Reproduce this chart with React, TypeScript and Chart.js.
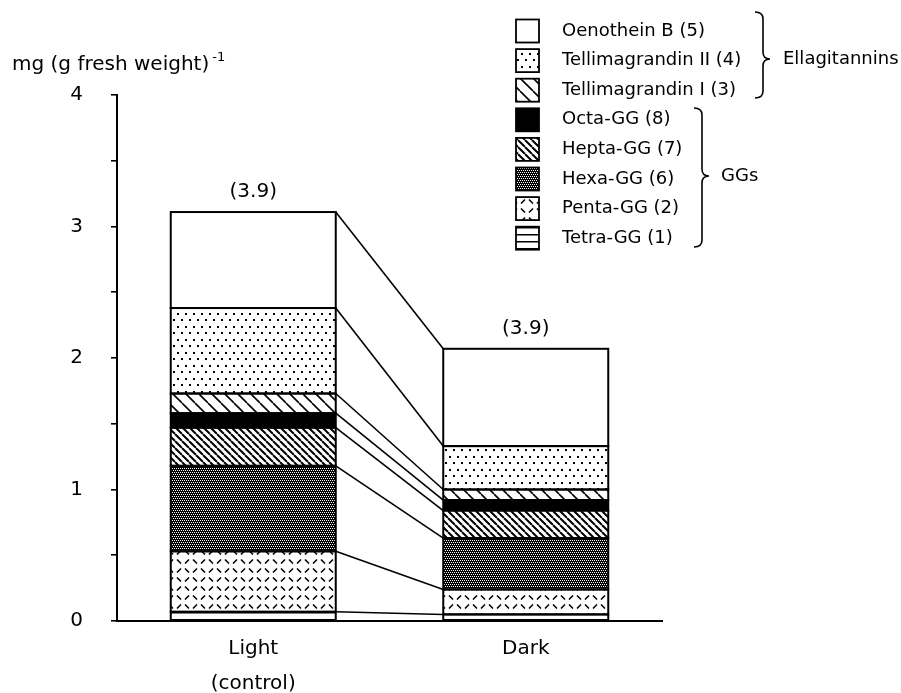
import React, { useEffect, useRef } from "react";
import { Chart, registerables } from "chart.js";

Chart.register(...registerables);

// ---- data ----
const categories: (string | string[])[] = [["Light", "(control)"], "Dark"];
const tetraGG = [0.07, 0.05];
const pentaGG = [0.46, 0.19];
const hexaGG = [0.65, 0.39];
const heptaGG = [0.29, 0.21];
const octaGG = [0.11, 0.08];
const tellimagrandinI = [0.15, 0.08];
const tellimagrandinII = [0.65, 0.33];
const oenotheinB = [0.73, 0.74];
const totalLabels = ["(3.9)", "(3.9)"];
const seriesLabels = [
  "Tetra-GG (1)",
  "Penta-GG (2)",
  "Hexa-GG (6)",
  "Hepta-GG (7)",
  "Octa-GG (8)",
  "Tellimagrandin I (3)",
  "Tellimagrandin II (4)",
  "Oenothein B (5)",
];
const groupLabels = ["Ellagitannins", "GGs"];
const axisTitle = "mg (g fresh weight)";
const axisTitleSup = "-1";

const FAMILY = "'DejaVu Sans', 'Noto Sans', sans-serif";

export default function App() {
  const ref = useRef<HTMLCanvasElement>(null);

  useEffect(() => {
    document.body.style.margin = "0";
    const canvas = ref.current!;
    const ctx = canvas.getContext("2d")!;

    const mk = (w: number, h: number, draw: (g: CanvasRenderingContext2D) => void) => {
      const c = document.createElement("canvas");
      c.width = w;
      c.height = h;
      const g = c.getContext("2d")!;
      g.fillStyle = "#fff";
      g.fillRect(0, 0, w, h);
      g.fillStyle = "#000";
      g.strokeStyle = "#000";
      draw(g);
      return ctx.createPattern(c, "repeat")!;
    };
    const diag = (s: number, lw: number) =>
      mk(s, s, (g) => {
        g.lineWidth = lw;
        g.beginPath();
        for (const k of [-1, 0, 1]) {
          g.moveTo(k * s, 0);
          g.lineTo(k * s + s, s);
        }
        g.stroke();
      });

    const pTetra = mk(4, 7, (g) => {
      g.fillRect(0, 3, 4, 1.5);
    });
    const pPenta = mk(16, 18, (g) => {
      g.lineWidth = 1.6;
      g.beginPath();
      g.moveTo(1, 1.5);
      g.lineTo(5, 5.5);
      g.moveTo(9, 5.5);
      g.lineTo(13, 1.5);
      g.moveTo(1, 14.5);
      g.lineTo(5, 10.5);
      g.moveTo(9, 10.5);
      g.lineTo(13, 14.5);
      g.stroke();
    });
    const pHexa = mk(4, 4, (g) => {
      g.fillRect(0, 0, 4, 4);
      g.fillStyle = "#fff";
      g.fillRect(0, 0, 1, 1);
      g.fillRect(2, 0, 1, 1);
      g.fillRect(1, 2, 1, 1);
      g.fillRect(3, 2, 1, 1);
    });
    const pHepta = diag(7, 2);
    const pOcta = "#000";
    const pT1 = diag(13, 1.6);
    const pT2 = mk(8, 13, (g) => {
      g.fillRect(1, 1, 2, 2);
      g.fillRect(5, 7, 2, 2);
    });
    const pOeno = "#fff";

    const seriesData = [tetraGG, pentaGG, hexaGG, heptaGG, octaGG, tellimagrandinI, tellimagrandinII, oenotheinB];
    const fills: (string | CanvasPattern)[] = [pTetra, pPenta, pHexa, pHepta, pOcta, pT1, pT2, pOeno];

    const brace = (c: CanvasRenderingContext2D, x: number, yTop: number, yBot: number, yTip: number, hook: number, tip: number) => {
      const r = 7;
      c.beginPath();
      c.moveTo(x - hook, yTop);
      c.quadraticCurveTo(x, yTop, x, yTop + r);
      c.lineTo(x, yTip - r);
      c.quadraticCurveTo(x, yTip, x + tip, yTip);
      c.quadraticCurveTo(x, yTip, x, yTip + r);
      c.lineTo(x, yBot - r);
      c.quadraticCurveTo(x, yBot, x - hook, yBot);
      c.stroke();
    };

    const decor = {
      id: "decor",
      afterDatasetsDraw(chart: any) {
        const c = chart.ctx as CanvasRenderingContext2D;
        const n = chart.data.datasets.length;
        c.save();
        c.strokeStyle = "#000";
        for (let i = 0; i < n; i++) {
          const meta = chart.getDatasetMeta(i);
          c.lineWidth = 2;
          meta.data.forEach((bar: any) => {
            c.strokeRect(bar.x - bar.width / 2, bar.y, bar.width, bar.base - bar.y);
          });
          const a = meta.data[0];
          const b = meta.data[1];
          c.lineWidth = 1.6;
          c.beginPath();
          c.moveTo(a.x + a.width / 2, a.y);
          c.lineTo(b.x - b.width / 2, b.y);
          c.stroke();
        }
        const topMeta = chart.getDatasetMeta(n - 1);
        c.fillStyle = "#000";
        c.font = `20px ${FAMILY}`;
        c.textAlign = "center";
        c.textBaseline = "middle";
        topMeta.data.forEach((bar: any, j: number) => c.fillText(totalLabels[j], bar.x, bar.y - 20));
        c.restore();
      },
      afterDraw(chart: any) {
        const c = chart.ctx as CanvasRenderingContext2D;
        c.save();
        // axis title
        c.fillStyle = "#000";
        c.textAlign = "left";
        c.textBaseline = "middle";
        c.font = `20px ${FAMILY}`;
        c.fillText(axisTitle, 12, 65);
        const w = c.measureText(axisTitle).width;
        c.font = `13px ${FAMILY}`;
        c.fillText(axisTitleSup, 12 + w + 3, 58);
        // legend
        const ds = chart.data.datasets;
        const order = ds.map((_: any, i: number) => i).reverse();
        c.font = `18px ${FAMILY}`;
        order.forEach((di: number, row: number) => {
          const y = 31 + row * 29.6;
          c.fillStyle = ds[di].backgroundColor;
          c.fillRect(516, y - 11.5, 23, 23);
          c.strokeStyle = "#000";
          c.lineWidth = 1.8;
          c.strokeRect(516, y - 11.5, 23, 23);
          c.fillStyle = "#000";
          c.fillText(ds[di].label, 562, y);
        });
        // braces
        c.strokeStyle = "#000";
        c.lineWidth = 1.6;
        brace(c, 763, 12, 98, 59, 8, 7);
        brace(c, 702, 108, 247, 176, 8, 7);
        c.fillStyle = "#000";
        c.font = `18px ${FAMILY}`;
        c.fillText(groupLabels[0], 783, 59);
        c.fillText(groupLabels[1], 721, 176);
        c.restore();
      },
    };

    const chart = new Chart(canvas, {
      type: "bar",
      data: {
        labels: categories as any,
        datasets: seriesData.map((d, i) => ({
          label: seriesLabels[i],
          data: d,
          backgroundColor: fills[i] as any,
          borderWidth: 0,
          barPercentage: 0.6055,
          categoryPercentage: 1,
        })),
      },
      options: {
        responsive: false,
        animation: false,
        devicePixelRatio: 1,
        layout: { padding: { top: 95, right: 239, left: 0, bottom: 0 } },
        plugins: { legend: { display: false }, tooltip: { enabled: false } },
        scales: {
          x: {
            stacked: true,
            grid: { display: false, drawTicks: false },
            border: { display: true, color: "#000", width: 2 },
            ticks: {
              color: "#000",
              font: { family: FAMILY, size: 20, lineHeight: "35px" as any },
              padding: 10,
              maxRotation: 0,
              autoSkip: false,
            },
            afterFit: (s: any) => {
              s.height = 72;
            },
          },
          y: {
            stacked: true,
            min: 0,
            max: 4,
            grid: { drawOnChartArea: false, drawTicks: true, tickLength: 6, color: "#000", lineWidth: 1.6 },
            border: { display: true, color: "#000", width: 2 },
            ticks: {
              stepSize: 0.5,
              color: "#000",
              font: { family: FAMILY, size: 20 },
              padding: 28,
              callback: (v: any) => (Number.isInteger(v) ? String(v) : ""),
            },
            afterFit: (s: any) => {
              s.width = 117;
            },
          },
        },
      },
      plugins: [decor],
    });
    return () => chart.destroy();
  }, []);

  return <canvas ref={ref} width={901} height={693} style={{ display: "block", width: 901, height: 693 }} />;
}
